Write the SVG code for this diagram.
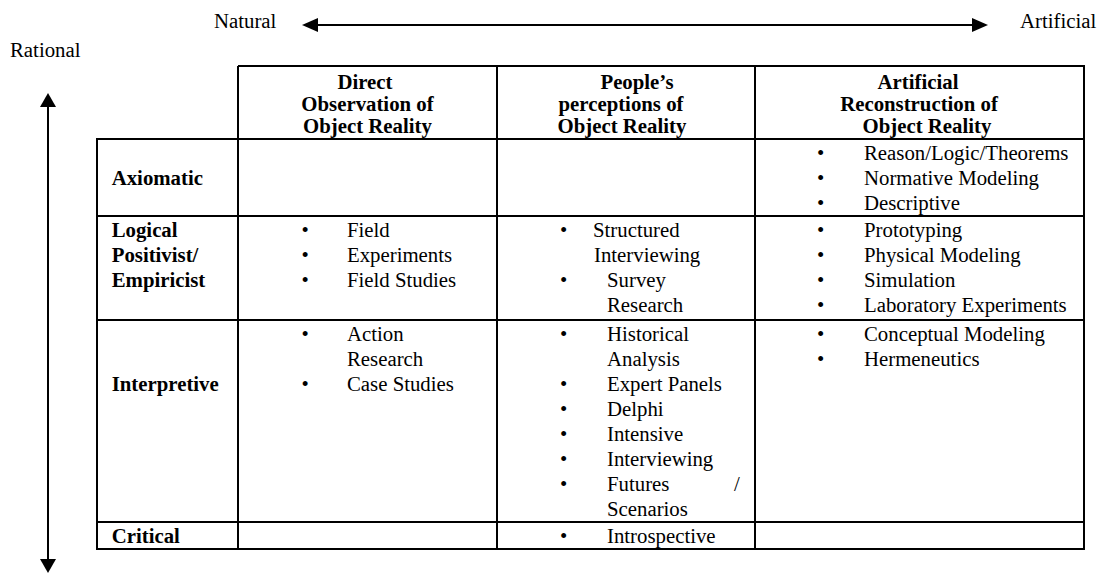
<svg xmlns="http://www.w3.org/2000/svg" width="1097" height="574" viewBox="0 0 1097 574">
<style>
text{font-family:"Liberation Serif","Times New Roman",serif;font-size:20.8px;fill:#000}
.b{font-weight:bold}
.h{font-weight:bold;text-anchor:middle}
.grid{fill:none;stroke:#000;stroke-width:2}
.ax{fill:none;stroke:#000;stroke-width:2}
.head{fill:#000;stroke:none}
</style>
<rect width="1097" height="574" fill="#fff"/>
<g id="axis-labels">
<text x="214" y="28">Natural</text>
<text x="1020" y="28">Artificial</text>
<text x="10" y="57">Rational</text>
</g>
<g id="connectors">
<line class="ax" x1="316" y1="25" x2="974" y2="25"/>
<polygon class="head" points="302,25 318,18 318,32"/>
<polygon class="head" points="988,25 972,18 972,32"/>
<line class="ax" x1="48" y1="106" x2="48" y2="560"/>
<polygon class="head" points="48,93 40,107 56,107"/>
<polygon class="head" points="48,573 40,559 56,559"/>
</g>
<g id="table-grid">
<path class="grid" d="M238,66H1084V549H97V139H1084M238,66V549M497,66V549M755,66V549M97,216H1084M97,320H1084M97,522H1084"/>
</g>
<g id="header-direct">
<text class="h" x="365" y="89">Direct</text>
<text class="h" x="367.5" y="111">Observation of</text>
<text class="h" x="367.5" y="133">Object Reality</text>
</g>
<g id="header-people">
<text class="h" x="637" y="89">People’s</text>
<text class="h" x="621" y="111">perceptions of</text>
<text class="h" x="622" y="133">Object Reality</text>
</g>
<g id="header-artificial">
<text class="h" x="918" y="89">Artificial</text>
<text class="h" x="919" y="111">Reconstruction of</text>
<text class="h" x="927" y="133">Object Reality</text>
</g>
<g id="row-axiomatic">
<text class="b" x="111.7" y="185">Axiomatic</text>
<text x="817" y="160">•</text><text x="864" y="160">Reason/Logic/Theorems</text>
<text x="817" y="185">•</text><text x="864" y="185">Normative Modeling</text>
<text x="817" y="210">•</text><text x="864" y="210">Descriptive</text>
</g>
<g id="row-logical">
<text class="b" x="111.7" y="237">Logical</text>
<text class="b" x="111.7" y="262">Positivist/</text>
<text class="b" x="111.7" y="287">Empiricist</text>
<text x="301.5" y="237">•</text><text x="347" y="237">Field</text>
<text x="301.5" y="262">•</text><text x="347" y="262">Experiments</text>
<text x="301.5" y="287">•</text><text x="347" y="287">Field Studies</text>
<text x="560" y="237">•</text><text x="593" y="237">Structured</text>
<text x="594" y="262">Interviewing</text>
<text x="560" y="287">•</text><text x="607" y="287">Survey</text>
<text x="607" y="312">Research</text>
<text x="817" y="237">•</text><text x="864" y="237">Prototyping</text>
<text x="817" y="262">•</text><text x="864" y="262">Physical Modeling</text>
<text x="817" y="287">•</text><text x="864" y="287">Simulation</text>
<text x="817" y="312">•</text><text x="864" y="312">Laboratory Experiments</text>
</g>
<g id="row-interpretive">
<text class="b" x="111.7" y="391">Interpretive</text>
<text x="301.5" y="341">•</text><text x="347" y="341">Action</text>
<text x="347" y="366">Research</text>
<text x="301.5" y="391">•</text><text x="347" y="391">Case Studies</text>
<text x="560" y="341">•</text><text x="607" y="341">Historical</text>
<text x="607" y="366">Analysis</text>
<text x="560" y="391">•</text><text x="607" y="391">Expert Panels</text>
<text x="560" y="416">•</text><text x="607" y="416">Delphi</text>
<text x="560" y="441">•</text><text x="607" y="441">Intensive</text>
<text x="560" y="466">•</text><text x="607" y="466">Interviewing</text>
<text x="560" y="491">•</text><text x="607" y="491">Futures<tspan x="734">/</tspan></text>
<text x="607" y="516">Scenarios</text>
<text x="817" y="341">•</text><text x="864" y="341">Conceptual Modeling</text>
<text x="817" y="366">•</text><text x="864" y="366">Hermeneutics</text>
</g>
<g id="row-critical">
<text class="b" x="111.7" y="543">Critical</text>
<text x="560" y="543">•</text><text x="607" y="543">Introspective</text>
</g>
</svg>
